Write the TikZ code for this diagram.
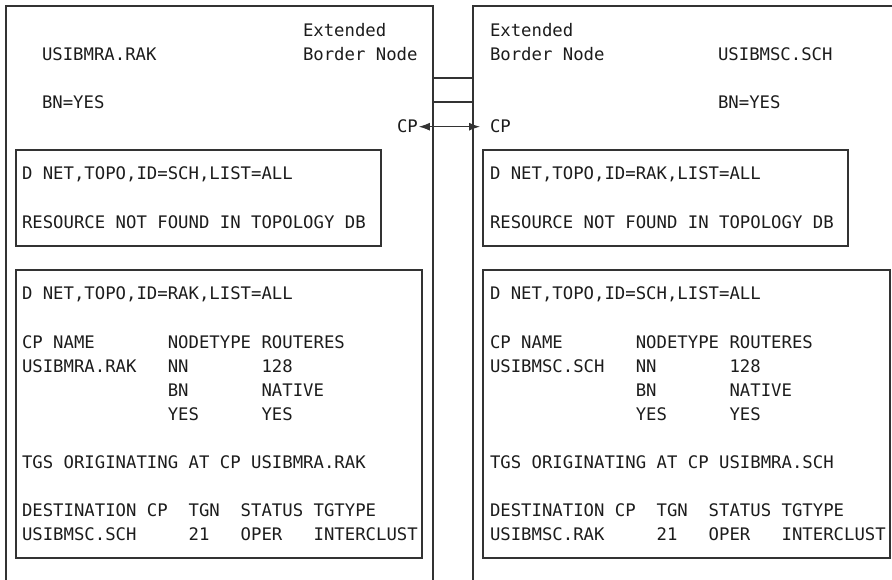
\documentclass[tikz,border=0pt]{standalone}
\usepackage{fontspec}
\setmonofont{DejaVu Sans Mono}
\usetikzlibrary{arrows.meta}
\definecolor{ink}{HTML}{1C1C1C}
\definecolor{rule}{HTML}{333333}
\begin{document}
\begin{tikzpicture}[x=1pt,y=-1pt,
  txt/.style={anchor=base west, inner sep=0pt, outer sep=0pt, text=ink,
    font=\ttfamily\fontsize{17.3}{20}\selectfont},
  frame/.style={draw=rule, line width=1.1pt, anchor=north west,
    inner sep=0pt, outer sep=0pt},
  link/.style={draw=rule, line width=1.1pt}]
\useasboundingbox (0,0) rectangle (892,580);
\clip (0,0) rectangle (892,580);

% outer system frames (open at the bottom / right)
\node[frame, minimum width=427pt, minimum height=620pt] (sysl) at (6,6) {};
\node[frame, minimum width=460pt, minimum height=620pt] (sysr) at (473,6) {};

% links between the two border nodes
\draw[link] (sysl.east |- 0,78) -- (sysr.west |- 0,78);
\draw[link] (sysl.east |- 0,102) -- (sysr.west |- 0,102);

% left node labels
\node[txt] (lext) at (303,37) {Extended};
\node[txt] (lbn) at (303,61) {Border~Node};
\node[txt] (lname) at (42,61) {USIBMRA.RAK};
\node[txt] (lyes) at (42,109) {BN=YES};
\node[txt] (lcp) at (397,133) {CP};

% right node labels
\node[txt] (rext) at (490,37) {Extended};
\node[txt] (rbn) at (490,61) {Border~Node};
\node[txt] (rname) at (718,61) {USIBMSC.SCH};
\node[txt] (ryes) at (718,109) {BN=YES};
\node[txt] (rcp) at (490,133) {CP};
\coordinate (lcptip) at ([xshift=1pt]lcp.east);
\coordinate (rcptip) at ([xshift=-10pt]rcp.west);

% CP-CP session
\draw[link, {Latex[length=11pt,width=8pt]}-{Latex[length=11pt,width=8pt]}]
  (lcptip) -- (rcptip);

% command output panels
\node[frame, minimum width=365pt, minimum height=96pt] (lq1) at (16,150) {};
\node[frame, minimum width=406pt, minimum height=288pt] (lq2) at (16,270) {};
\node[frame, minimum width=365pt, minimum height=96pt] (rq1) at (483,150) {};
\node[frame, minimum width=407pt, minimum height=288pt] (rq2) at (483,270) {};

% left panel 1
\node[txt] (la1) at (22,180) {D NET,TOPO,ID=SCH,LIST=ALL};
\node[txt] (la2) at (22,229) {RESOURCE NOT FOUND IN TOPOLOGY DB};

% left panel 2
\node[txt] (lb1) at (22,300) {D NET,TOPO,ID=RAK,LIST=ALL};
\node[txt] (lb2) at (22,348) {CP~NAME~~~~~~~NODETYPE~ROUTERES};
\node[txt] (lb3) at (22,372) {USIBMRA.RAK~~~NN~~~~~~~128};
\node[txt] (lb4) at (22,396) {~~~~~~~~~~~~~~BN~~~~~~~NATIVE};
\node[txt] (lb5) at (22,420) {~~~~~~~~~~~~~~YES~~~~~~YES};
\node[txt] (lb6) at (22,468) {TGS ORIGINATING AT CP USIBMRA.RAK};
\node[txt] (lb7) at (22,516) {DESTINATION~CP~~TGN~~STATUS~TGTYPE};
\node[txt] (lb8) at (22,540) {USIBMSC.SCH~~~~~21~~~OPER~~~INTERCLUST};

% right panel 1
\node[txt] (ra1) at (490,180) {D NET,TOPO,ID=RAK,LIST=ALL};
\node[txt] (ra2) at (490,229) {RESOURCE NOT FOUND IN TOPOLOGY DB};

% right panel 2
\node[txt] (rb1) at (490,300) {D NET,TOPO,ID=SCH,LIST=ALL};
\node[txt] (rb2) at (490,348) {CP~NAME~~~~~~~NODETYPE~ROUTERES};
\node[txt] (rb3) at (490,372) {USIBMSC.SCH~~~NN~~~~~~~128};
\node[txt] (rb4) at (490,396) {~~~~~~~~~~~~~~BN~~~~~~~NATIVE};
\node[txt] (rb5) at (490,420) {~~~~~~~~~~~~~~YES~~~~~~YES};
\node[txt] (rb6) at (490,468) {TGS ORIGINATING AT CP USIBMRA.SCH};
\node[txt] (rb7) at (490,516) {DESTINATION~CP~~TGN~~STATUS~TGTYPE};
\node[txt] (rb8) at (490,540) {USIBMSC.RAK~~~~~21~~~OPER~~~INTERCLUST};
\end{tikzpicture}
\end{document}
